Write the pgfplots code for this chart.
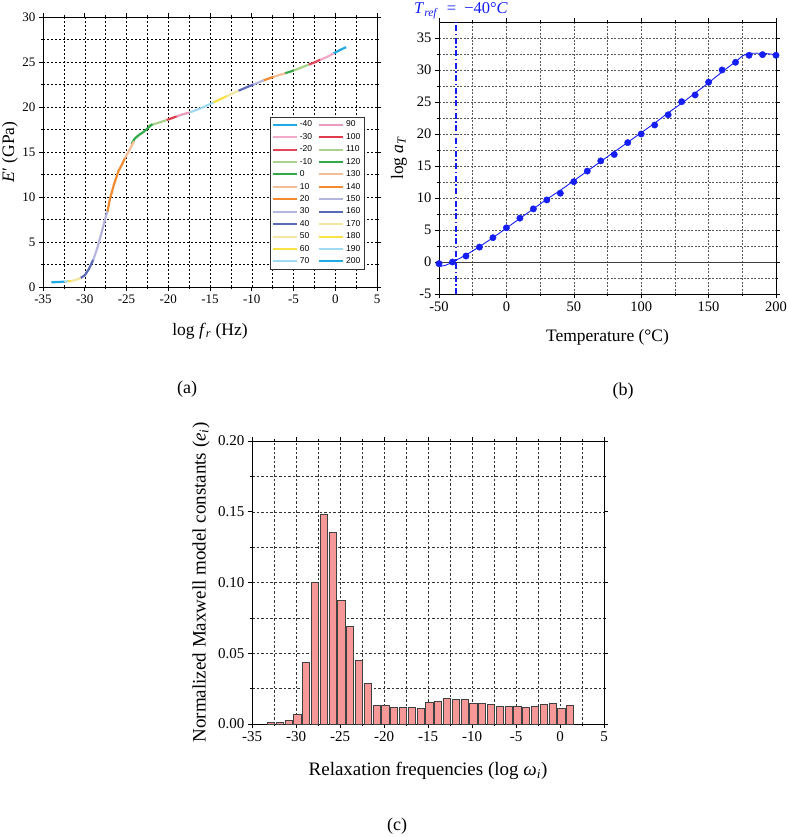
\documentclass[border=0pt]{standalone}
\usepackage{fontspec}
\setmainfont{Liberation Serif}
\newfontfamily\legfont{Liberation Sans}
\usepackage{pgfplots}
\pgfplotsset{compat=1.18}
\definecolor{cA}{RGB}{30,170,226}
\definecolor{cB}{RGB}{243,170,200}
\definecolor{cC}{RGB}{230,70,90}
\definecolor{cD}{RGB}{170,210,140}
\definecolor{cE}{RGB}{50,170,75}
\definecolor{cF}{RGB}{243,190,150}
\definecolor{cG}{RGB}{242,138,48}
\definecolor{cH}{RGB}{180,182,222}
\definecolor{cI}{RGB}{90,105,180}
\definecolor{cJ}{RGB}{243,230,160}
\definecolor{cK}{RGB}{250,225,70}
\definecolor{cL}{RGB}{160,218,242}
\definecolor{cM}{RGB}{232,155,190}
\definecolor{cN}{RGB}{225,60,75}
\definecolor{barfill}{RGB}{246,152,152}
\definecolor{ptblue}{RGB}{20,30,245}
\pgfplotsset{
  common/.style={
    scale only axis,
    anchor=south west,
    grid=both,
    minor x tick num=1, minor y tick num=1,
    tick align=outside, major tick length=4pt, minor tick length=2pt,
    tick style={black, line width=0.6pt},
    axis line style={black, line width=0.8pt},
    /pgf/number format/assume math mode=true,
    label style={font=\fontsize{17.5}{18}\selectfont},
  }
}
\begin{document}
\begin{tikzpicture}
\path[use as bounding box] (0pt,0pt) rectangle (787pt,-837pt);
% ---------------- (a)
\begin{axis}[common,
  at={(43pt,-287pt)}, width=334pt, height=270pt,
  xmin=-35, xmax=5, ymin=0, ymax=30,
  xtick={-35,-30,...,5}, ytick={0,5,...,30},
  major grid style={black, line width=0.5pt, dash pattern=on 2pt off 2pt},
  minor grid style={black, line width=0.5pt, dash pattern=on 2pt off 2pt},
  ticklabel style={font=\fontsize{13}{13}\selectfont},
  xlabel={log \textit{f}\textsubscript{\textit{r}} (Hz)},
  ylabel={\textit{E}′ (GPa)},
  xlabel style={at={(axis description cs:0.5,-0.163)}, anchor=center},
  ylabel style={at={(axis description cs:-0.099,0.5)}, anchor=center},
  legend columns=2,
  legend cell align=left,
  legend style={at={(0.961,0.067)}, anchor=south east, draw=black!80, fill=white,
    font=\legfont\fontsize{8.5}{9}\selectfont, inner sep=1.5pt, row sep=1pt,
    /tikz/every even column/.append style={column sep=4pt}},
  legend image code/.code={\draw[#1, line width=2pt] (0pt,0pt) -- (24pt,0pt);},
  every axis plot/.append style={line width=2.2pt},
]
\addplot[cA] coordinates {(-0.2,25.95) (0.5,26.3) (1.3,26.65)};
\addlegendentry{-40}
\addplot[cM] coordinates {(-19.0,18.95) (-18.2,19.2) (-17.4,19.4)};
\addlegendentry{90}
\addplot[cB] coordinates {(-1.8,25.25) (-1.0,25.55) (-0.2,25.95)};
\addlegendentry{-30}
\addplot[cN] coordinates {(-20.2,18.55) (-19.0,18.95)};
\addlegendentry{100}
\addplot[cC] coordinates {(-3.2,24.7) (-2.5,24.95) (-1.8,25.25)};
\addlegendentry{-20}
\addplot[cD] coordinates {(-22.4,17.9) (-21.0,18.3) (-20.2,18.55)};
\addlegendentry{110}
\addplot[cD] coordinates {(-5.0,24.05) (-4.0,24.4) (-3.2,24.7)};
\addlegendentry{-10}
\addplot[cE] coordinates {(-24.4,15.9) (-24.0,16.5) (-23.5,16.9) (-23.0,17.2) (-22.5,17.6) (-21.9,18.1)};
\addlegendentry{120}
\addplot[cE] coordinates {(-6.0,23.75) (-5.0,24.05)};
\addlegendentry{0}
\addplot[cF] coordinates {(-25.2,14.3) (-24.6,15.3) (-24.1,16.2)};
\addlegendentry{130}
\addplot[cF] coordinates {(-7.4,23.35) (-6.0,23.75)};
\addlegendentry{10}
\addplot[cG] coordinates {(-27.3,8.3) (-27.0,9.7) (-26.5,11.4) (-26.0,12.8) (-25.5,13.7) (-25.2,14.3)};
\addlegendentry{140}
\addplot[cG] coordinates {(-8.6,22.95) (-7.4,23.35)};
\addlegendentry{20}
\addplot[cH] coordinates {(-29.0,3.0) (-28.5,4.3) (-28.0,6.0) (-27.6,7.4) (-27.3,8.4)};
\addlegendentry{150}
\addplot[cH] coordinates {(-9.8,22.5) (-8.6,22.95)};
\addlegendentry{30}
\addplot[cI] coordinates {(-30.5,1.0) (-30.0,1.3) (-29.5,2.0) (-29.0,3.0)};
\addlegendentry{160}
\addplot[cI] coordinates {(-11.6,21.8) (-10.6,22.2) (-9.8,22.5)};
\addlegendentry{40}
\addplot[cJ] coordinates {(-31.6,0.67) (-31.0,0.8) (-30.5,1.0)};
\addlegendentry{170}
\addplot[cJ] coordinates {(-13.0,21.2) (-11.6,21.8)};
\addlegendentry{50}
\addplot[cK] coordinates {(-32.0,0.63) (-31.6,0.67)};
\addlegendentry{180}
\addplot[cK] coordinates {(-14.6,20.5) (-13.8,20.85) (-13.0,21.2)};
\addlegendentry{60}
\addplot[cL] coordinates {(-32.5,0.6) (-32.0,0.63)};
\addlegendentry{190}
\addplot[cL] coordinates {(-17.4,19.4) (-16.0,19.9) (-14.6,20.5)};
\addlegendentry{70}
\addplot[cA] coordinates {(-34.0,0.52) (-33.0,0.56) (-32.5,0.6)};
\addlegendentry{200}
\end{axis}
% ---------------- (b)
\begin{axis}[common,
  at={(439pt,-294pt)}, width=337pt, height=272pt,
  xmin=-50, xmax=200, ymin=-5, ymax=37.5,
  xtick={-50,0,...,200}, ytick={-5,0,...,35},
  major grid style={black!65, line width=0.5pt, dash pattern=on 2pt off 1.5pt},
  minor grid style={black!65, line width=0.5pt, dash pattern=on 2pt off 1.5pt},
  ticklabel style={font=\fontsize{14.5}{14.5}\selectfont},
  xlabel={Temperature (°C)},
  ylabel={log \textit{a}\textsubscript{\textit{T}}},
  xlabel style={at={(axis description cs:0.5,-0.158)}, anchor=center},
  ylabel style={at={(axis description cs:-0.119,0.5)}, anchor=center},
]
\addplot[black!75, line width=1pt] coordinates {(-50,0) (200,0)};
\addplot[draw=ptblue, line width=1.5pt, dash pattern=on 6pt off 2.5pt on 1.5pt off 2.5pt] coordinates {(-37.5,-5) (-37.5,37.5)};
\addplot[ptblue, line width=0.9pt, smooth] coordinates {
(-50,-0.7) (-45,-0.5) (-40,0.0) (-30,1.1) (-20,2.4) (-10,3.8) (0,5.3) (10,6.8)
(20,8.3) (30,9.8) (40,11.2) (50,12.7) (60,14.2) (70,15.7) (80,17.2) (90,18.7)
(100,20.2) (110,21.7) (120,23.3) (130,24.8) (140,26.4) (150,28.0) (160,29.7)
(170,31.3) (176,32.3) (182,32.6) (190,32.6) (200,32.4)};
\addplot[only marks, mark=*, mark size=3.2pt, ptblue] coordinates {
(-50,-0.26) (-40,0.0) (-30,0.93) (-20,2.33) (-10,3.8) (0,5.34) (10,6.85) (20,8.3)
(30,9.7) (40,10.75) (50,12.55) (60,14.2) (70,15.8) (80,16.8) (90,18.65) (100,20.0)
(110,21.4) (120,23.0) (130,25.05) (140,26.1) (150,28.1) (160,30.0) (170,31.2)
(180,32.3) (190,32.4) (200,32.3)};
\end{axis}
\node[anchor=base, inner sep=0pt, text=ptblue, font=\fontsize{16.5}{16.5}\selectfont]
  at (461pt,-13.5pt) {\textit{T}\textsubscript{\textit{ref}}\enspace=\enspace−40°\textit{C}};
% ---------------- (c)
\begin{axis}[common,
  at={(252pt,-724pt)}, width=352pt, height=283pt,
  xmin=-35, xmax=5, ymin=0, ymax=0.2,
  xtick={-35,-30,...,5}, ytick={0,0.05,...,0.2},
  scaled y ticks=false,
  yticklabel style={/pgf/number format/.cd, fixed, fixed zerofill, precision=2},
  major grid style={black!80, line width=0.5pt, dash pattern=on 2.5pt off 2pt},
  minor grid style={black!80, line width=0.5pt, dash pattern=on 2.5pt off 2pt},
  ticklabel style={font=\fontsize{15}{15}\selectfont},
  label style={font=\fontsize{19}{19}\selectfont},
  xlabel={Relaxation frequencies (log \textit{ω}\textsubscript{\textit{i}})},
  ylabel={Normalized Maxwell model constants (\textit{e}\textsubscript{\textit{i}})},
  xlabel style={at={(axis description cs:0.5,-0.166)}, anchor=center},
  ylabel style={at={(axis description cs:-0.145,0.5)}, anchor=center},
  ybar, bar width=0.82,
]
\addplot[fill=barfill, draw=black!75, line width=0.7pt] coordinates {
(-32.85,0.0014) (-31.85,0.0010) (-30.85,0.0028) (-29.85,0.0070) (-28.85,0.0437)
(-27.85,0.0998) (-26.85,0.1479) (-25.85,0.1354) (-24.85,0.0876) (-23.85,0.0688)
(-22.85,0.0450) (-21.85,0.0284) (-20.85,0.0134) (-19.85,0.0131) (-18.85,0.0120)
(-17.85,0.0120) (-16.85,0.0120) (-15.85,0.0113) (-14.85,0.0155) (-13.85,0.0157)
(-12.85,0.0183) (-11.85,0.0171) (-10.85,0.0176) (-9.85,0.0148) (-8.85,0.0148)
(-7.85,0.0136) (-6.85,0.0127) (-5.85,0.0127) (-4.85,0.0122) (-3.85,0.0115)
(-2.85,0.0122) (-1.85,0.0136) (-0.85,0.0146) (0.15,0.0113) (1.15,0.0129)};
\end{axis}
% panel labels
\node[font=\fontsize{18}{18}\selectfont] at (187pt,-389pt) {(a)};
\node[font=\fontsize{18}{18}\selectfont] at (623pt,-391pt) {(b)};
\node[font=\fontsize{18}{18}\selectfont] at (397pt,-826pt) {(c)};
\end{tikzpicture}
\end{document}
